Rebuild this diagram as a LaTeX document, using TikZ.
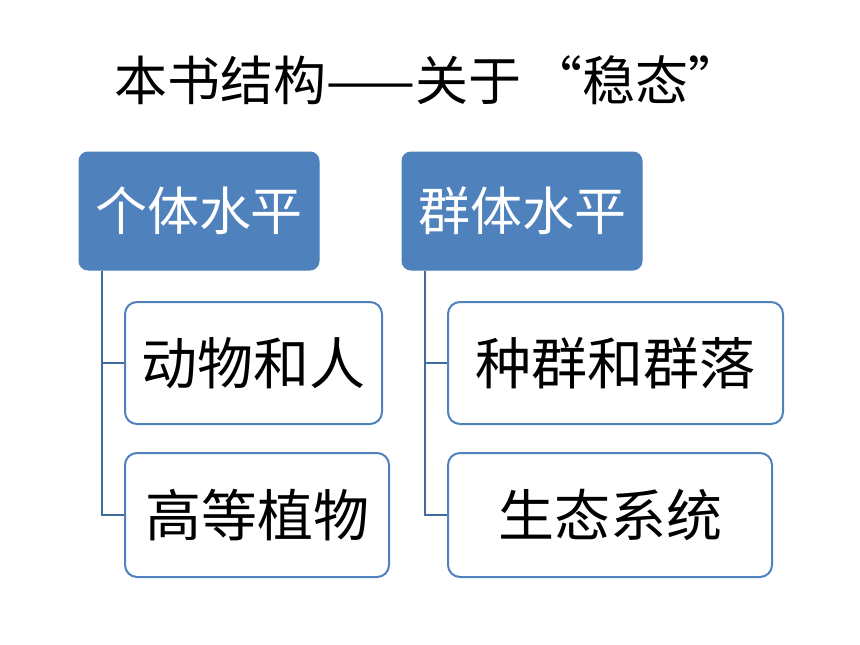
\documentclass[tikz,border=0pt]{standalone}
\usepackage{fontspec}
\setmainfont{Noto Sans CJK SC}
\definecolor{topblue}{RGB}{79,129,189}
\definecolor{linkblue}{RGB}{65,108,160}
\tikzset{
        levelbox/.style={rounded corners=9pt, draw=topblue, fill=topblue, line width=1pt, text=white, font=\fontsize{52}{60}\selectfont, minimum width=240pt, minimum height=118pt, inner sep=0pt},
        itembox/.style={rounded corners=12pt, draw=topblue, fill=white, line width=2pt, font=\fontsize{56}{64}\selectfont, minimum height=122pt, inner sep=0pt},
        link/.style={draw=linkblue, line width=2pt}
}
\begin{document}
\begin{tikzpicture}[x=1pt,y=-1pt]
        \useasboundingbox (0,0) rectangle (860,645);

        \node[font=\fontsize{53}{60}\selectfont] (title) at (428,80) {本书结构——关于\kern8pt“稳态”};

        \node[levelbox] (indiv) at (199,211) {个体水平};
        \node[levelbox] (group) at (522,211) {群体水平};

        \node[itembox, minimum width=257pt] (animal) at (253.5,363) {动物和人};
        \node[itembox, minimum width=264pt, minimum height=124pt] (plant) at (257,515) {高等植物};
        \node[itembox, minimum width=335pt] (commun) at (615.5,363) {种群和群落};
        \node[itembox, minimum width=324pt, minimum height=124pt] (ecosys) at (610,515) {生态系统};

        \draw[link] ([xshift=23pt]indiv.south west) |- (animal.west);
        \draw[link] ([xshift=23pt]indiv.south west) |- (plant.west);
        \draw[link] ([xshift=23pt]group.south west) |- (commun.west);
        \draw[link] ([xshift=23pt]group.south west) |- (ecosys.west);

\end{tikzpicture}
\end{document}
